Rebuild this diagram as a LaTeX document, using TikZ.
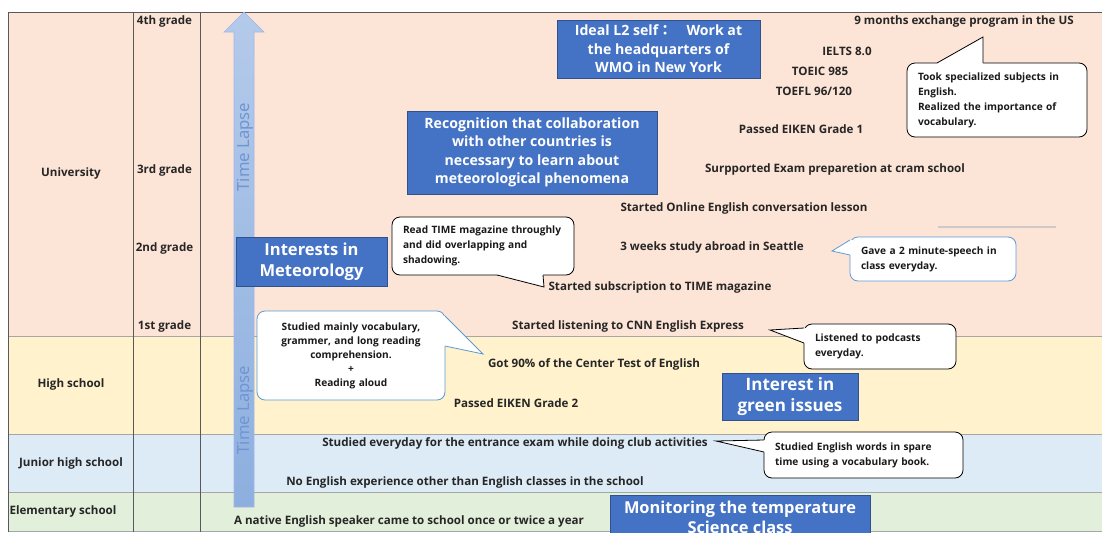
\documentclass[tikz,border=0pt]{standalone}
\usepackage{fontspec}
\setmainfont{Open Sans}
\newfontfamily\cjkfont{Noto Sans CJK JP}
\newfontfamily\lapsefont{Noto Sans}
\definecolor{uni}{HTML}{FCE4D6}
\definecolor{hs}{HTML}{FFF2CC}
\definecolor{jhs}{HTML}{DDEBF7}
\definecolor{elem}{HTML}{E2EFDA}
\definecolor{boxblue}{HTML}{4472C4}
\definecolor{boxedge}{HTML}{2F528F}
\definecolor{calloutblue}{HTML}{5B9BD5}
\definecolor{arrowtop}{HTML}{B4CAEA}
\definecolor{arrowbot}{HTML}{8DAFDF}
\definecolor{lapse}{HTML}{7095D3}
\definecolor{gridline}{HTML}{595959}
\definecolor{lightrule}{HTML}{D0C8C8}
\tikzset{
  lbl/.style={font=\fontsize{8.7}{10}\selectfont\bfseries, inner sep=0pt, text=black!85},
  bluebox/.style={fill=boxblue, draw=boxedge, line width=0.6pt, text=white,
    font=\fontsize{10.6}{13.9}\selectfont\bfseries, align=center, inner sep=0pt},
  callout/.style={fill=white, draw=black, line width=0.6pt, rounded corners=6pt,
    font=\fontsize{7.6}{11.25}\selectfont\bfseries, inner ysep=0pt, text=black!90},
  bluecallout/.style={callout, draw=calloutblue},
  ptr/.style={line width=0.6pt, line join=miter},
  lapsetext/.style={font=\lapsefont\fontsize{12.5}{12.5}\selectfont, text=lapse, rotate=90, inner sep=0pt},
}
\begin{document}
\begin{tikzpicture}[x=0.75pt,y=-0.75pt]
\useasboundingbox (0,0) rectangle (1102,532);
\clip (0,0) rectangle (1102,532);
\fill[white] (0,0) rectangle (1102,532);
% row bands
\fill[uni]  (8,12)  rectangle (1102,336);
\fill[hs]   (8,336) rectangle (1102,434);
\fill[jhs]  (8,434) rectangle (1102,492);
\fill[elem] (8,492) rectangle (1102,531);
% grid
\draw[gridline, line width=0.6pt] (8,12) -- (1102,12);
\foreach \yy in {336,434,492,531} \draw[gray!70, line width=0.6pt] (8,\yy) -- (1102,\yy);
\foreach \xx in {8,133,200} \draw[gridline, line width=0.6pt] (\xx,12) -- (\xx,532);
\draw[lightrule, line width=1pt] (938,227) -- (1056,227);
% row labels
\node[lbl] (uni) at (71,173) {University};
\node[lbl] (hs) at (71,384) {High school};
\node[lbl] (jhs) at (71,463) {Junior high school};
\node[lbl] (elem) at (63,511) {Elementary school};
\node[lbl] (g4) at (164.5,21) {4th grade};
\node[lbl] (g3) at (164.5,170) {3rd grade};
\node[lbl] (g2) at (164.5,248) {2nd grade};
\node[lbl] (g1) at (164.5,326) {1st grade};
% time arrow
\shade[top color=arrowtop, bottom color=arrowbot, draw=arrowtop!90!blue, line width=0.4pt]
  (244,12) -- (264,32) -- (254,32) -- (254,507) -- (234,507) -- (234,32) -- (224,32) -- cycle;
\node[lapsetext] (lapse1) at (245,147) {Time Lapse};
\node[lapsetext] (lapse2) at (245,410) {Time Lapse};
% blue boxes
\node[bluebox, minimum width=152.25pt, minimum height=43.5pt] (ideal) at (658.5,49)
  {Ideal L2 self{\cjkfont ：　}Work at\\the headquarters of\\WMO in New York};
\node[bluebox, minimum width=187.5pt, minimum height=62.25pt] (recog) at (532,152.5)
  {Recognition that collaboration\\with other countries is\\necessary to learn about\\meteorological phenomena};
\node[bluebox, font=\fontsize{12.4}{15.5}\selectfont\bfseries, minimum width=113.25pt, minimum height=36.75pt] (meteo) at (311.5,261.5)
  {Interests in\\Meteorology};
\node[bluebox, font=\fontsize{12.8}{15.5}\selectfont\bfseries, minimum width=102pt, minimum height=35.25pt] (green) at (790,396.5)
  {Interest in\\green issues};
\node[bluebox, font=\fontsize{12.3}{14.5}\selectfont\bfseries, minimum width=195pt, minimum height=33.75pt] (monitor) at (740,517.5)
  {Monitoring the temperature\\Science class};
% event labels
\node[lbl] (exch) at (964,21) {9 months exchange program in the US};
\node[lbl] (ielts) at (847,51) {IELTS 8.0};
\node[lbl] (toeic) at (820,71) {TOEIC 985};
\node[lbl] (toefl) at (814,91) {TOEFL 96/120};
\node[lbl] (eiken1) at (801,129) {Passed EIKEN Grade 1};
\node[lbl] (cram) at (835,169) {Surpported Exam preparetion at cram school};
\node[lbl] (online) at (744,208) {Started Online English conversation lesson};
\node[lbl] (seattle) at (712,247) {3 weeks study abroad in Seattle};
\node[lbl] (time) at (660,287) {Started subscription to TIME magazine};
\node[lbl] (cnn) at (628,326) {Started listening to CNN English Express};
\node[lbl] (center) at (594,364) {Got 90\% of the Center Test of English};
\node[lbl] (eiken2) at (516,403) {Passed EIKEN Grade 2};
\node[lbl] (entrance) at (515,443) {Studied everyday for the entrance exam while doing club activities};
\node[lbl] (noeng) at (465,482) {No English experience other than English classes in the school};
\node[lbl] (native) at (409,521) {A native English speaker came to school once or twice a year};
% callouts
\node[callout, align=left, text width=118.5pt, inner xsep=8.25pt, minimum height=55.5pt] (c1) at (997,100)
  {Took specialized subjects in\\English.\\Realized the importance of\\vocabulary.};
\fill[white] (937,66) -- (937,63) -- (983,37) -- (983,63) -- (983,66) -- cycle;
\draw[ptr] (937,63) -- (983,37) -- (983,63);
\node[bluecallout, align=left, text width=108pt, inner xsep=8.25pt, minimum height=33pt] (c2) at (933,259)
  {Gave a 2 minute-speech in\\class everyday.};
\fill[white] (853,240) -- (850,240) -- (832,251) -- (850,255) -- (853,255) -- cycle;
\draw[ptr, calloutblue] (850,240) -- (832,251) -- (850,255);
\node[callout, align=left, text width=120pt, inner xsep=8.25pt, minimum height=43.5pt] (c3) at (483,246)
  {Read TIME magazine throughly\\and did overlapping and\\shadowing.};
\fill[white] (497,272) -- (497,275) -- (544,287) -- (543,275) -- (543,272) -- cycle;
\draw[ptr] (497,275) -- (544,287) -- (543,275);
\node[bluecallout, align=center, text width=126pt, inner xsep=7.5pt, minimum height=66.75pt,
  font=\fontsize{7.6}{10.5}\selectfont\bfseries] (c4) at (351,355.5)
  {Studied mainly vocabulary,\\grammer, and long reading\\comprehension.\\+\\Reading aloud};
\fill[white] (442,316) -- (445,316) -- (483,354) -- (445,346) -- (442,346) -- cycle;
\draw[ptr, calloutblue] (445,316) -- (483,354) -- (445,346);
\node[callout, align=left, text width=97.5pt, inner xsep=8.25pt, minimum height=33.75pt] (c5) at (880,346.5)
  {Listened to podcasts\\everyday.};
\fill[white] (807,328) -- (804,328) -- (770,330) -- (804,343) -- (807,343) -- cycle;
\draw[ptr] (804,328) -- (770,330) -- (804,343);
\node[callout, align=left, text width=132.75pt, inner xsep=8.25pt, minimum height=34.5pt] (c6) at (863.5,455)
  {Studied English words in spare\\time using a vocabulary book.};
\fill[white] (767,440) -- (764,440) -- (716,441) -- (764,452) -- (767,452) -- cycle;
\draw[ptr] (764,440) -- (716,441) -- (764,452);
\end{tikzpicture}
\end{document}
